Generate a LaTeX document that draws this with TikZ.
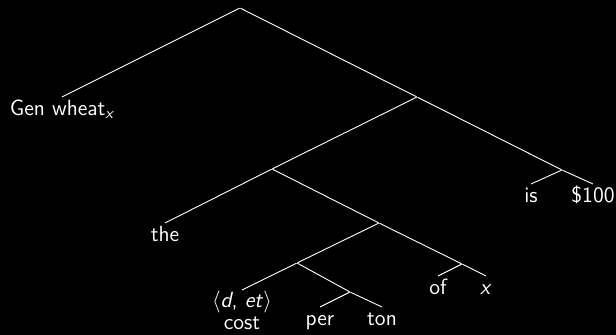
\documentclass[tikz,border=0pt]{standalone}
\usepackage{amsmath}
\usepackage{tikz}
\tikzset{
  every picture/.style={font=\sffamily\fontsize{11}{12.5}\selectfont},
  branch/.style={draw=white,line width=0.45pt},
  fork/.style={inner sep=0pt,minimum size=0pt},
  leaf/.style={anchor=north,text=white,inner sep=2pt,text height=0.7em,text depth=0.2em},
}
\begin{document}
\begin{tikzpicture}[x=0.5pt,y=-0.5pt]
  \useasboundingbox (0,0) rectangle (616,335);
  \fill[black] (0,0) rectangle (616,335);
  % branching points
  \node[fork] (root)   at (240,8)   {};
  \node[fork] (top)    at (417,97)  {};
  \node[fork] (subj)   at (272,169) {};
  \node[fork] (pred)   at (562,170) {};
  \node[fork] (nbar)   at (379,223) {};
  \node[fork] (cost)   at (297,263) {};
  \node[fork] (ofx)    at (462,264) {};
  \node[fork] (perton) at (350,292) {};
  % words
  \node[leaf] (gen)  at (62,97)   {Gen wheat$_{\textit{x}}$};
  \node[leaf] (the)  at (165,223) {the};
  \node[leaf] (is)   at (531,184) {is};
  \node[leaf] (usd)  at (593,184) {\$100};
  \node[leaf] (of)   at (438,276) {of};
  \node[leaf] (var)  at (486,276) {\textit{x}};
  \node[leaf,text height=,text depth=,inner sep=0.5pt,align=center,
    font=\sffamily\fontsize{11}{11}\selectfont] (fn) at (242,290)
    {$\langle$\textit{d}, \textit{et}$\rangle$\\cost};
  \node[leaf] (per)  at (320,307) {per};
  \node[leaf] (ton)  at (382,307) {ton};
  \foreach \a/\b in {root/top,top/subj,top/pred,subj/nbar,nbar/cost,nbar/ofx,cost/perton}
    \draw[branch] (\a) -- (\b);
  \foreach \a/\b in {root/gen,subj/the,pred/is,pred/usd,ofx/of,ofx/var,cost/fn,perton/per,perton/ton}
    \draw[branch] (\a) -- (\b.north);
\end{tikzpicture}
\end{document}
